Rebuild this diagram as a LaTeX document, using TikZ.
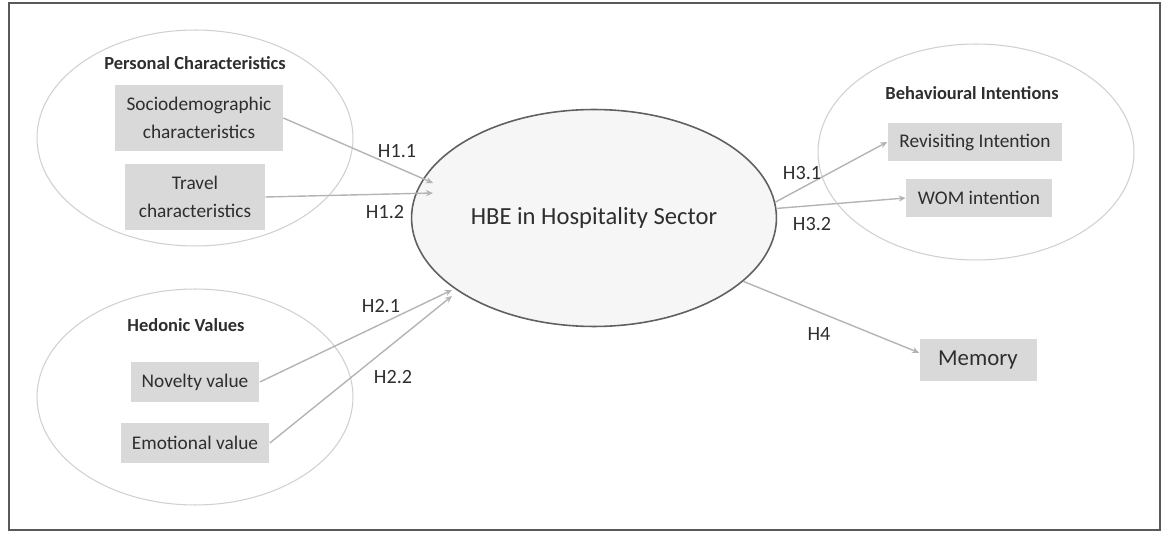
\documentclass[tikz,border=0pt]{standalone}
\usepackage{fontspec}
\setmainfont{Carlito}
\usepackage{tikz}
\usetikzlibrary{arrows.meta}
\usetikzlibrary{shapes.geometric}
\definecolor{boxgray}{HTML}{D9D9D9}
\definecolor{linegray}{HTML}{B4B4B4}
\definecolor{ringgray}{HTML}{D0D0D0}
\definecolor{textgray}{HTML}{2E2E2E}
\tikzstyle{group}=[ellipse, draw=ringgray, line width=0.6pt, minimum width=6.32cm, minimum height=4.32cm]
\tikzstyle{core}=[ellipse, draw=gray!75!black, fill=gray!7, line width=0.9pt, minimum width=6.36cm, minimum height=4.34cm, text=textgray, font=\fontsize{14}{16}\selectfont]
\tikzstyle{factor}=[fill=boxgray, inner sep=0pt, align=center, text=textgray, font=\fontsize{11}{16}\selectfont]
\tikzstyle{heading}=[text=textgray, font=\bfseries\fontsize{10.5}{12}\selectfont]
\tikzstyle{hyp}=[text=textgray, font=\fontsize{11.5}{13}\selectfont]
\tikzstyle{arrow}=[draw=linegray, line width=0.8pt, >={Stealth[length=4pt, width=3.5pt]}]

\begin{document}
\begin{tikzpicture}[x=0.02cm, y=-0.02cm]
	   \useasboundingbox (0, 0) rectangle (1163, 533);
	   \draw[gray!70!black, line width=1.2pt] (9, 3) rectangle (1160, 530);
	   \begin{scope}
		   % left groups
		   \node (personal) at (195, 138)[group] {};
		   \node (personalhead) at (195, 63)[heading] {Personal Characteristics};
		   \node (socio) at (199, 118)[factor, minimum width=3.36cm, minimum height=1.34cm] {Sociodemographic\\characteristics};
		   \node (travel) at (195, 197)[factor, minimum width=2.8cm, minimum height=1.34cm] {Travel\\characteristics};
		   \node (hedonic) at (195, 397)[group] {};
		   \node (hedonichead) at (186, 325)[heading] {Hedonic Values};
		   \node (novelty) at (195, 382)[factor, minimum width=2.58cm, minimum height=0.8cm] {Novelty value};
		   \node (emotional) at (195, 443)[factor, minimum width=2.98cm, minimum height=0.8cm] {Emotional value};
		   % centre
		   \node (hbe) at (594, 218)[core] {HBE in Hospitality Sector};
		   % right side
		   \node (behaviour) at (976, 152)[group] {};
		   \node (behaviourhead) at (972, 93)[heading] {Behavioural Intentions};
		   \node (revisit) at (975, 142)[factor, minimum width=3.5cm, minimum height=0.78cm] {Revisiting Intention};
		   \node (wom) at (979, 198)[factor, minimum width=2.92cm, minimum height=0.76cm] {WOM intention};
		   \node (memory) at (978, 360)[factor, minimum width=2.34cm, minimum height=0.86cm, font=\fontsize{13}{15}\selectfont] {Memory};
	   \end{scope}
	   \begin{scope}[arrow]
		   \coordinate (tip11) at (433, 183);
		   \coordinate (tip12) at (433, 193);
		   \coordinate (tip21) at (452, 290);
		   \coordinate (tip22) at (452, 296);
		   \path [->] (socio.east) edge (tip11);
		   \path [->] (travel.east) edge (tip12);
		   \path [->] (novelty.east) edge (tip21);
		   \path [->] (emotional.east) edge (tip22);
		   \path [->] (hbe.5) edge (revisit.west);
		   \path [->] (hbe.3) edge (wom.west);
		   \path [->] (hbe.-23) edge (memory.173);
	   \end{scope}
	   \begin{scope}
		   \node (h11) at (397, 151)[hyp] {H1.1};
		   \node (h12) at (385, 212)[hyp] {H1.2};
		   \node (h21) at (381, 306)[hyp] {H2.1};
		   \node (h22) at (393, 377)[hyp] {H2.2};
		   \node (h31) at (802, 173)[hyp] {H3.1};
		   \node (h32) at (812, 224)[hyp] {H3.2};
		   \node (h4) at (819, 334)[hyp] {H4};
	   \end{scope}
\end{tikzpicture}
\end{document}
